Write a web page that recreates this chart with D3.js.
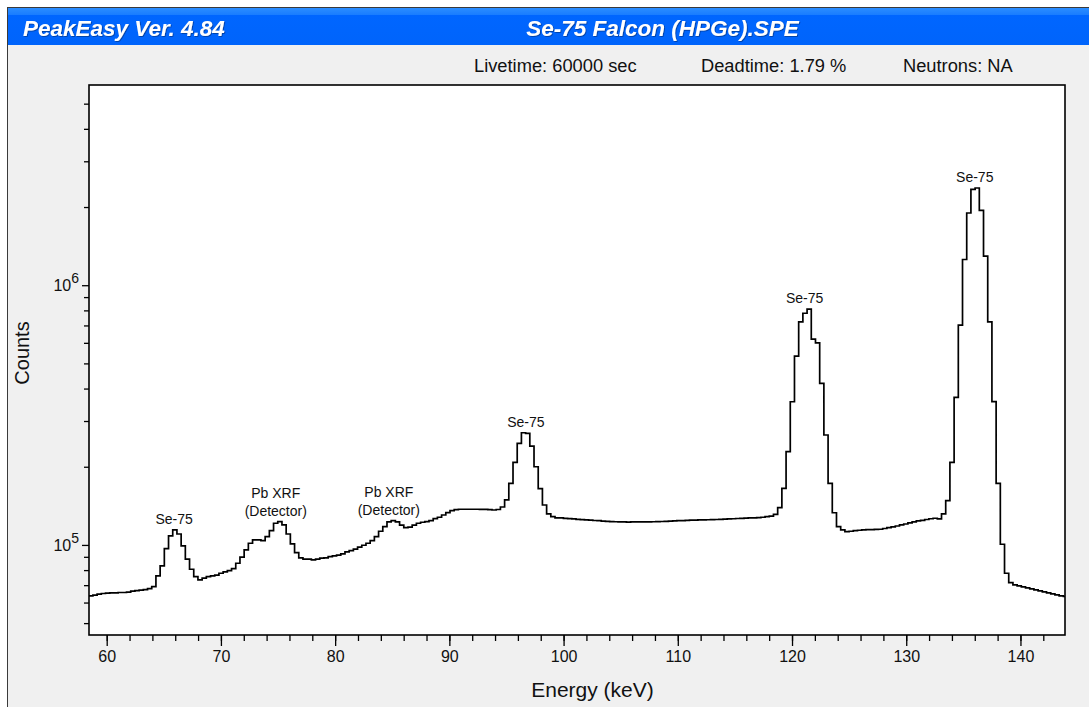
<!DOCTYPE html>
<html>
<head>
<meta charset="utf-8">
<script src="https://cdn.jsdelivr.net/npm/d3@7"></script>
<style>
  html, body { margin: 0; padding: 0; background: #ffffff; }
  svg { display: block; font-family: "Liberation Sans", Arial, sans-serif; }
</style>
</head>
<body>
<svg id="chart" width="1089" height="707"></svg>
<script>
// ---- Spectrum data: Se-75 source measured with a Falcon HPGe detector ----
// Energy calibration of the binned spectrum (keV)
const firstBinStart = 58.425;
const binWidth = 0.3678;

// Counts per bin, starting at firstBinStart
const counts = [
  63700, 64100, 64600, 65000, 65200, 65400, 65400, 65600, 65600, 65800,
  66400, 66700, 67000, 67300, 67900, 69100, 76000, 83000, 96800, 108300,
  114200, 110200, 99100, 88100, 80600, 75500, 73300, 74500, 75500, 76000,
  76500, 77800, 78700, 79600, 81100, 85000, 89700, 95700, 101500, 104500,
  104500, 103900, 107600, 113500, 121200, 122900, 119400, 110200, 100900, 93400,
  89100, 88100, 88100, 87600, 88100, 88900, 89100, 90100, 90700, 91300,
  92300, 94000, 95100, 96300, 98000, 99700, 101500, 103900, 107600, 112900,
  117600, 122600, 124000, 122600, 119100, 116600, 117000, 119100, 121200, 122300,
  122900, 124000, 126200, 127800, 130400, 133100, 135500, 136700, 137200, 137200,
  137200, 137200, 137200, 137000, 137000, 136800, 136300, 136900, 140000, 149000,
  172700, 208000, 246000, 270400, 268900, 240300, 200000, 164600, 142500, 131600,
  128500, 127000, 127000, 126600, 126200, 125900, 125500, 125200, 124800, 124500,
  124200, 124000, 123600, 123300, 123000, 122800, 122600, 122600, 122500, 122600,
  122600, 122700, 122600, 122700, 122800, 122900, 123100, 123300, 123500, 123800,
  124000, 124100, 124300, 124500, 124600, 124800, 124900, 125000, 125200, 125300,
  125500, 125700, 125900, 126100, 126400, 126600, 126900, 127200, 127200, 127500,
  127800, 128500, 129200, 131000, 139200, 165200, 228500, 355800, 533000, 722000,
  780000, 809000, 620000, 600000, 419000, 265000, 172700, 133000, 117600, 114200,
  112500, 112900, 113500, 113900, 114200, 114500, 114500, 114700, 114900, 115700,
  116600, 117300, 118300, 119400, 120400, 121500, 122600, 123700, 124400, 125300,
  126100, 126700, 125900, 131600, 148000, 208000, 370000, 702000, 1256000, 1897000,
  2339000, 2367000, 1943000, 1294000, 722000, 356000, 172700, 100600, 77800, 71600,
  70200, 69500, 68900, 68300, 67700, 67100, 66500, 65900, 65400, 64800,
  64200, 63700, 63300
];

// Axis extents and ticks
const energyRange = [58.45, 143.9];
const countRange = [45000, 5.9e6];
const xMajorTicks = [60, 70, 80, 90, 100, 110, 120, 130, 140];
const xMinorTicks = [60, 62, 64, 66, 68, 70, 72, 74, 76, 78, 80, 82, 84, 86, 88, 90, 92, 94, 96, 98,
  100, 102, 104, 106, 108, 110, 112, 114, 116, 118, 120, 122, 124, 126, 128, 130, 132, 134, 136, 138, 140, 142];
const yMajorTicks = [1e5, 1e6];
const yMajorExponents = ["5", "6"];
const yMinorTicks = [5e4, 6e4, 7e4, 8e4, 9e4, 2e5, 3e5, 4e5, 5e5, 6e5, 7e5, 8e5, 9e5, 2e6, 3e6, 4e6, 5e6];

// Peak annotations
const peakEnergies = [65.9, 74.8, 84.7, 96.7, 121.1, 136.0];
const peakNames = [["Se-75"], ["Pb XRF", "(Detector)"], ["Pb XRF", "(Detector)"], ["Se-75"], ["Se-75"], ["Se-75"]];

// Header texts
const appTitle = "PeakEasy Ver. 4.84";
const fileTitle = "Se-75 Falcon (HPGe).SPE";
const infoTexts = ["Livetime: 60000 sec", "Deadtime: 1.79 %", "Neutrons: NA"];
const infoX = [474, 701, 903];

// ---- Layout ----
const W = 1089, H = 707;
const plot = { left: 89, top: 85, right: 1065, bottom: 635 };
const fontStack = "'Liberation Sans', Arial, sans-serif";

const svg = d3.select("#chart");
const defs = svg.append("defs");

// Window frame
svg.append("rect")
  .attr("x", 7.5).attr("y", 7.5).attr("width", W + 10).attr("height", H + 10)
  .attr("fill", "#f0f0f0").attr("stroke", "#3a3a3a").attr("stroke-width", 1);

// Title bar
const grad = defs.append("linearGradient").attr("id", "titlebar")
  .attr("x1", 0).attr("y1", 0).attr("x2", 0).attr("y2", 1);
grad.append("stop").attr("offset", "0%").attr("stop-color", "#2b8dff");
grad.append("stop").attr("offset", "18%").attr("stop-color", "#1a7dff");
grad.append("stop").attr("offset", "20%").attr("stop-color", "#0066ff");
grad.append("stop").attr("offset", "100%").attr("stop-color", "#0064fb");

svg.append("rect")
  .attr("x", 8).attr("y", 8).attr("width", W - 8).attr("height", 37)
  .attr("fill", "url(#titlebar)");

const shadow = defs.append("filter").attr("id", "txtshadow")
  .attr("x", "-5%").attr("y", "-20%").attr("width", "110%").attr("height", "140%");
shadow.append("feDropShadow").attr("dx", 0.8).attr("dy", 0.8)
  .attr("stdDeviation", 0.5).attr("flood-color", "#001a55").attr("flood-opacity", 0.6);

svg.append("text")
  .attr("x", 23).attr("y", 36)
  .attr("fill", "#ffffff").attr("font-size", 22.5).attr("font-weight", "bold").attr("font-style", "italic")
  .attr("filter", "url(#txtshadow)")
  .text(appTitle);

svg.append("text")
  .attr("x", 662.5).attr("y", 36).attr("text-anchor", "middle")
  .attr("fill", "#ffffff").attr("font-size", 22.5).attr("font-weight", "bold").attr("font-style", "italic")
  .attr("filter", "url(#txtshadow)")
  .text(fileTitle);

// Acquisition info line
svg.selectAll("text.info").data(infoTexts).join("text")
  .attr("class", "info")
  .attr("x", (d, i) => infoX[i]).attr("y", 72)
  .attr("fill", "#111").attr("font-size", 18.3)
  .text(d => d);

// ---- Scales ----
const x = d3.scaleLinear().domain(energyRange).range([plot.left, plot.right]);
const y = d3.scaleLog().domain(countRange).range([plot.bottom, plot.top]);

// Plot background
svg.append("rect")
  .attr("x", plot.left).attr("y", plot.top)
  .attr("width", plot.right - plot.left).attr("height", plot.bottom - plot.top)
  .attr("fill", "#ffffff");

// ---- Axes ----
const xMinor = svg.append("g").attr("transform", `translate(0,${plot.bottom})`)
  .call(d3.axisBottom(x).tickValues(xMinorTicks).tickSize(6).tickFormat(""));
const xMajor = svg.append("g").attr("transform", `translate(0,${plot.bottom})`)
  .call(d3.axisBottom(x).tickValues(xMajorTicks).tickSize(11).tickPadding(5).tickFormat(d3.format("d")));
const yMinor = svg.append("g").attr("transform", `translate(${plot.left},0)`)
  .call(d3.axisLeft(y).tickValues(yMinorTicks).tickSize(5).tickFormat(""));
const yMajor = svg.append("g").attr("transform", `translate(${plot.left},0)`)
  .call(d3.axisLeft(y).tickValues(yMajorTicks).tickSize(7).tickPadding(3).tickFormat(""));

[xMinor, xMajor, yMinor, yMajor].forEach(g => {
  g.attr("font-size", 16).attr("font-family", fontStack);
  g.select(".domain").remove();
  g.selectAll(".tick line").attr("stroke", "#000").attr("stroke-width", 1.3);
  g.selectAll("text").attr("fill", "#111").style("font-size", "16px");
});

// Power-of-ten labels with superscript exponent
yMajor.selectAll(".tick text").each(function (d, i) {
  const t = d3.select(this);
  t.text("10");
  t.append("tspan").attr("dy", -7.5).style("font-size", "14px").text(yMajorExponents[i]);
});

// ---- Spectrum (step histogram) ----
defs.append("clipPath").attr("id", "plotclip")
  .append("rect")
  .attr("x", plot.left).attr("y", plot.top)
  .attr("width", plot.right - plot.left).attr("height", plot.bottom - plot.top);

const steps = counts.map((c, i) => [firstBinStart + i * binWidth, c]);
steps.push([firstBinStart + counts.length * binWidth, counts[counts.length - 1]]);

svg.append("path")
  .datum(steps)
  .attr("clip-path", "url(#plotclip)")
  .attr("fill", "none")
  .attr("stroke", "#000")
  .attr("stroke-width", 1.7)
  .attr("stroke-linejoin", "miter")
  .attr("d", d3.line().x(d => x(d[0])).y(d => y(d[1])).curve(d3.curveStepAfter));

// Plot frame
svg.append("rect")
  .attr("x", plot.left).attr("y", plot.top)
  .attr("width", plot.right - plot.left).attr("height", plot.bottom - plot.top)
  .attr("fill", "none").attr("stroke", "#000").attr("stroke-width", 1.6);

// ---- Peak labels, placed just above the highest bin near each peak ----
function peakTop(e) {
  let m = 0;
  counts.forEach((c, i) => {
    const lo = firstBinStart + i * binWidth, hi = lo + binWidth;
    if (hi > e - 0.6 && lo < e + 0.6) m = Math.max(m, c);
  });
  return m;
}
const lineGap = 17.5;
peakEnergies.forEach((e, k) => {
  const base = y(peakTop(e)) - 6;
  const lines = peakNames[k];
  const t = svg.append("text")
    .attr("text-anchor", "middle").attr("font-size", 14).attr("fill", "#111");
  lines.forEach((s, j) => {
    t.append("tspan")
      .attr("x", x(e))
      .attr("y", base - (lines.length - 1 - j) * lineGap)
      .text(s);
  });
});

// ---- Axis titles ----
svg.append("text")
  .attr("x", 592.5).attr("y", 697)
  .attr("text-anchor", "middle").attr("font-size", 21).attr("fill", "#111")
  .text("Energy (keV)");

svg.append("text")
  .attr("transform", "translate(29,353) rotate(-90)")
  .attr("text-anchor", "middle").attr("font-size", 20).attr("fill", "#111")
  .text("Counts");
</script>
</body>
</html>
